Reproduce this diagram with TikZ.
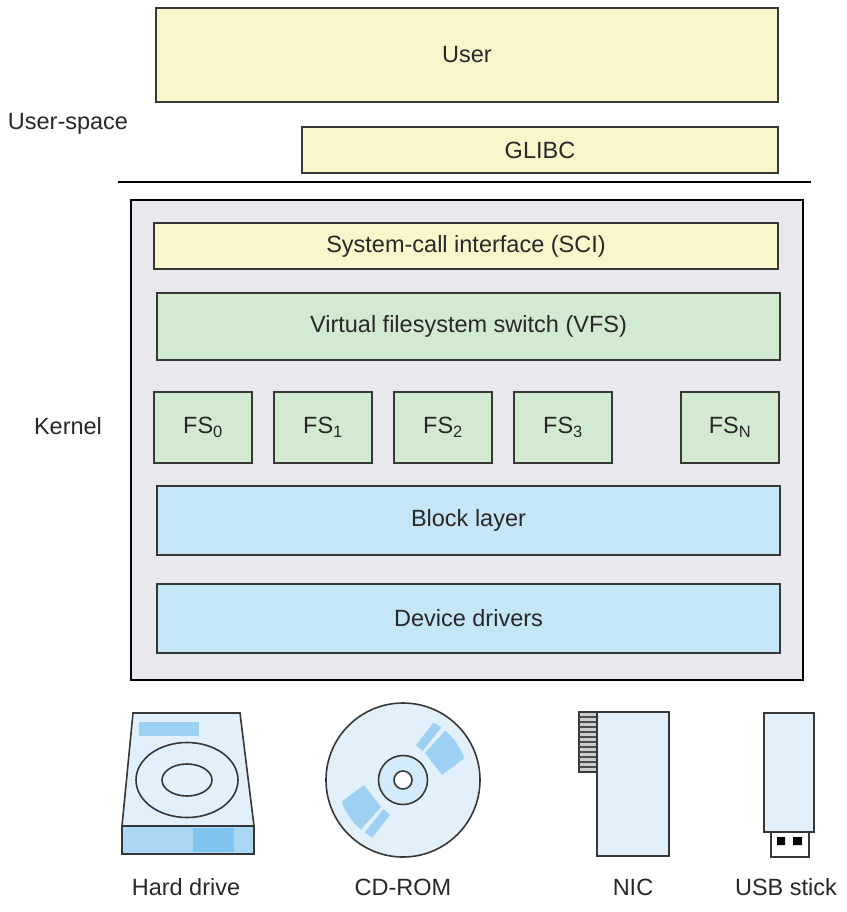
\documentclass[tikz,border=0pt]{standalone}
\usepackage{fontspec}
\setmainfont{Liberation Sans}
\usetikzlibrary{positioning}
\definecolor{userclr}{RGB}{250,246,204}
\definecolor{fsclr}{RGB}{210,235,208}
\definecolor{blkclr}{RGB}{197,230,247}
\definecolor{kernclr}{RGB}{233,233,237}
\definecolor{devclr}{RGB}{225,240,250}
\definecolor{patchclr}{RGB}{157,208,242}
\definecolor{darkpatchclr}{RGB}{126,196,238}
\definecolor{lineclr}{RGB}{55,55,55}
\definecolor{txtclr}{RGB}{40,40,40}
\tikzset{ %
  ,every node/.style={font=\fontsize{23.5}{28}\selectfont, text=txtclr}
  ,layer/.style={draw=lineclr, line width=2pt, inner sep=0, fill=userclr}
  ,fsbox/.style={layer, fill=fsclr, minimum width=98pt, minimum height=71pt, node distance=20pt}
  ,blkbox/.style={layer, fill=blkclr, minimum width=623pt, minimum height=69pt}
  ,side/.style={inner sep=0}
  ,dev/.style={draw=lineclr, line width=1.6pt, fill=devclr}
}

\begin{document}
\begin{tikzpicture}[x=1pt, y=-1pt]
      \useasboundingbox (0,0) rectangle (846,912);
      % user-space
      \draw
      node[layer, minimum width=622pt, minimum height=94pt] (user) at (467,55) {User}
      node[layer, minimum width=476pt, minimum height=46pt] (glibc) at (540,150) {GLIBC}
      node[side] (uspace) at (68,124) {User-space};
      \draw [line width=2pt] (118,182) -- (811,182);
      % kernel
      \draw
      node[layer, draw=black, fill=kernclr, minimum width=672pt, minimum height=480pt] (kernel) at (467,440) {}
      node[layer, minimum width=624pt, minimum height=46pt] (sci) at (466,246) {System-call interface (SCI)}
      node[layer, fill=fsclr, minimum width=623pt, minimum height=67pt] (vfs) at (468.5,326.5) {Virtual filesystem switch (VFS)}
      node[fsbox] (fs0) at (203,427.5) {FS\textsubscript{0}}
      node[fsbox, right=of fs0] (fs1) {FS\textsubscript{1}}
      node[fsbox, right=of fs1] (fs2) {FS\textsubscript{2}}
      node[fsbox, right=of fs2] (fs3) {FS\textsubscript{3}}
      node[fsbox] (fsn) at (730,427.5) {FS\textsubscript{N}}
      node[blkbox] (block) at (468.5,520.5) {Block layer}
      node[blkbox] (drivers) at (468.5,618.5) {Device drivers}
      node[side] (kern) at (68,426) {Kernel};
      % hard drive
      \draw[dev] (133,713) -- (240,713) -- (254,826) -- (122,826) -- cycle;
      \fill[patchclr] (139,722) rectangle (199,736);
      \draw[dev, fill=patchclr!85] (122,826) rectangle (254,854);
      \fill[darkpatchclr] (193,828) rectangle (234,852);
      \draw[lineclr, line width=1.6pt] (187,780) ellipse [x radius=51pt, y radius=37.5pt]
        (187,780) ellipse [x radius=25pt, y radius=16pt];
      % cd-rom
      \draw[dev] (403,780) circle [radius=77pt];
      \foreach \turn in {0,180}
      {
        \begin{scope}[shift={(403,780)}, rotate=\turn]
          \fill[patchclr] (50.8:34.8pt) -- (49.6:65pt) arc [start angle=49.6, end angle=19.5, radius=65pt]
            -- (7.3:39.3pt) -- cycle;
          \fill[patchclr] (69.6:37pt) -- (62:65pt) arc [start angle=62, end angle=54, radius=65pt]
            -- (56:35pt) -- cycle;
        \end{scope}
      }
      \draw[lineclr, line width=1.6pt, fill=blkclr!80] (403,780) circle [radius=24.5pt];
      \draw[lineclr, line width=1.6pt, fill=white] (403,780) circle [radius=9pt];
      % nic
      \draw[lineclr, line width=1.2pt, fill=gray!40] (579,712) rectangle (597,772);
      \foreach \y in {717,722,...,767} \draw[gray!60!black, line width=1.3pt] (579,\y) -- (597,\y);
      \draw[dev] (597,712) rectangle (669,856);
      % usb stick
      \draw[dev] (764,713) rectangle (814,832);
      \draw[dev, fill=white] (771,832) rectangle (809,857);
      \fill[black] (777,837) rectangle (785,845) (793,837) rectangle (802,845);
      % captions
      \draw
      node (hdd) at (186,887) {Hard drive}
      node (cdrom) at (403,887) {CD-ROM}
      node (nic) at (633,887) {NIC}
      node (usb) at (786,887) {USB stick};
    \end{tikzpicture}
\end{document}
